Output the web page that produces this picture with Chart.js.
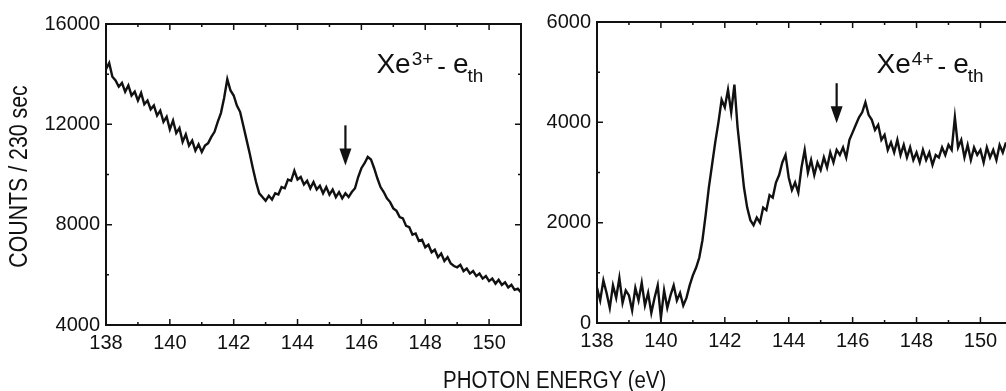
<!DOCTYPE html>
<html>
<head>
<meta charset="utf-8">
<script src="https://cdn.jsdelivr.net/npm/chart.js@4.4.0/dist/chart.umd.min.js"></script>
<style>
body { margin: 0; background: #fff; }
#wrap { position: relative; width: 1006px; height: 391px; overflow: hidden; }
#left { position: absolute; left: 0; top: 0; }
#right { position: absolute; left: 530px; top: 0; }
#xtitle { position: absolute; left: 443px; top: 369px; font: 23px/23px "Liberation Sans", Arial, sans-serif; color: #111; white-space: nowrap; transform: scaleX(0.89); transform-origin: 0 0; }
</style>
</head>
<body>
<div id="wrap">
  <canvas id="left" width="530" height="391"></canvas>
  <canvas id="right" width="476" height="391"></canvas>
  <div id="xtitle">PHOTON ENERGY (eV)</div>
</div>
<script>
// photon energy grid (eV)
var energyStart = 138.0;
var energyStep = 0.1;

// Xe3+ - e_th, counts / 230 sec, 138.0 ... 151.0
var xe3Counts = [
  14200, 14450, 13900, 13750, 13500, 13650, 13300, 13550, 13150, 13300,
  12950, 13250, 12800, 12950, 12600, 12750, 12350, 12550, 12100, 12300,
  11800, 12150, 11650, 11850, 11300, 11600, 11150, 11350, 10950, 11200,
  10900, 11150, 11250, 11500, 11700, 12100, 12450, 13050, 13800, 13350,
  13150, 12750, 12500, 11950, 11400, 10850, 10250, 9700, 9250, 9100,
  8950, 9150, 9000, 9250, 9200, 9500, 9450, 9800, 9750, 10150,
  9800, 9900, 9600, 9750, 9450, 9700, 9400, 9550, 9250, 9500,
  9200, 9400, 9100, 9300, 9050, 9250, 9100, 9300, 9450, 9900,
  10250, 10450, 10700, 10600, 10250, 9850, 9500, 9300, 9050, 8900,
  8650, 8550, 8300, 8250, 7950, 7900, 7600, 7650, 7350, 7400,
  7100, 7200, 6900, 7000, 6700, 6850, 6550, 6700, 6450, 6350,
  6300, 6400, 6150, 6250, 6050, 6150, 5950, 6050, 5850, 5950,
  5750, 5850, 5650, 5800, 5600, 5700, 5500, 5600, 5400, 5450,
  5300
];

// Xe4+ - e_th, counts / 230 sec, 138.0 ... 150.8
var xe4Counts = [
  700, 450, 850, 600, 300, 750, 500, 900, 400, 650,
  550, 250, 700, 450, 800, 350, 600, 200, 500, 750,
  100, 650, 300, 550, 750, 450, 600, 350, 500, 750,
  950, 1100, 1300, 1650, 2150, 2700, 3150, 3600, 4000, 4450,
  4300, 4650, 4200, 4750, 3900, 3300, 2700, 2300, 2050, 1950,
  2100, 2000, 2300, 2250, 2550, 2500, 2800, 2950, 3200, 3350,
  2900, 2650, 2800, 2600, 3100, 3450, 3000, 3250, 2950, 3200,
  3050, 3300, 3100, 3400, 3200, 3450, 3350, 3500, 3300, 3650,
  3800, 3950, 4100, 4200, 4400, 4150, 4050, 3850, 3950, 3650,
  3750, 3450, 3600, 3400, 3650, 3350, 3550, 3300, 3500, 3250,
  3400, 3200, 3450, 3250, 3400, 3150, 3350, 3300, 3500, 3350,
  3550, 3450, 4100, 3500, 3650, 3300, 3550, 3250, 3500, 3350,
  3450, 3200, 3500, 3300, 3450, 3250, 3550, 3400, 3600
];

var energyTicks = [138, 140, 142, 144, 146, 148, 150];
var xe3Ticks = [4000, 8000, 12000, 16000];
var xe4Ticks = [0, 2000, 4000, 6000];

var sans = '"Liberation Sans", Arial, sans-serif';
var ink = '#111';

function toPoints(counts) {
  return counts.map(function(c, i) {
    return { x: +(energyStart + i * energyStep).toFixed(2), y: c };
  });
}

function midpoints(t) {
  var m = [];
  for (var i = 0; i < t.length - 1; i++) m.push((t[i] + t[i + 1]) / 2);
  return m;
}

function drawLabel(ctx, x, y, charge) {
  ctx.fillStyle = ink;
  ctx.textAlign = 'left';
  ctx.textBaseline = 'alphabetic';
  ctx.font = '28px ' + sans;
  ctx.fillText('Xe', x, y);
  x += ctx.measureText('Xe').width + 1;
  ctx.font = '19px ' + sans;
  ctx.fillText(charge, x, y - 8);
  x += ctx.measureText(charge).width + 4;
  ctx.font = '26px ' + sans;
  ctx.fillText('-', x, y + 2);
  x += ctx.measureText('-').width + 7;
  ctx.font = '28px ' + sans;
  ctx.fillText('e', x, y);
  x += ctx.measureText('e').width - 1;
  ctx.font = '19px ' + sans;
  ctx.fillText('th', x, y + 9);
}

var framePlugin = {
  id: 'frame',
  afterDraw: function(chart, args, o) {
    var ctx = chart.ctx, a = chart.chartArea;
    var xs = chart.scales.x, ys = chart.scales.y;
    ctx.save();
    ctx.strokeStyle = ink;
    ctx.lineWidth = 2;
    ctx.beginPath();
    ctx.moveTo(a.left, a.top); ctx.lineTo(a.right, a.top);
    ctx.moveTo(a.left, a.top - 1); ctx.lineTo(a.left, a.bottom + 1);
    ctx.moveTo(a.left, a.bottom); ctx.lineTo(a.right, a.bottom);
    if (o.rightEdge) { ctx.moveTo(a.right, a.top - 1); ctx.lineTo(a.right, a.bottom + 1); }
    ctx.stroke();

    ctx.lineWidth = 1.5;
    ctx.beginPath();
    function xTick(v, len) {
      var px = xs.getPixelForValue(v);
      ctx.moveTo(px, a.bottom); ctx.lineTo(px, a.bottom - len);
      ctx.moveTo(px, a.top); ctx.lineTo(px, a.top + len);
    }
    function yTick(v, len) {
      var py = ys.getPixelForValue(v);
      ctx.moveTo(a.left, py); ctx.lineTo(a.left + len, py);
      if (o.rightEdge) { ctx.moveTo(a.right, py); ctx.lineTo(a.right - len, py); }
    }
    energyTicks.forEach(function(v) { xTick(v, 6); });
    midpoints(energyTicks).forEach(function(v) { xTick(v, 3); });
    o.yTicks.forEach(function(v) { yTick(v, 6); });
    midpoints(o.yTicks).forEach(function(v) { yTick(v, 3); });
    ctx.stroke();

    // arrow marking the threshold
    var ax = xs.getPixelForValue(o.arrow.x);
    var ay0 = ys.getPixelForValue(o.arrow.from);
    var ay1 = ys.getPixelForValue(o.arrow.to);
    ctx.lineWidth = 2.2;
    ctx.beginPath();
    ctx.moveTo(ax, ay0); ctx.lineTo(ax, ay1 - 10);
    ctx.stroke();
    ctx.fillStyle = ink;
    ctx.beginPath();
    ctx.moveTo(ax - 6, ay1 - 17); ctx.lineTo(ax + 6, ay1 - 17); ctx.lineTo(ax, ay1);
    ctx.closePath();
    ctx.fill();

    drawLabel(ctx, xs.getPixelForValue(o.label.x), ys.getPixelForValue(o.label.y), o.label.charge);

    // condensed vertical axis title
    if (o.yTitle) {
      ctx.save();
      ctx.translate(20, (a.top + a.bottom) / 2 + 2);
      ctx.rotate(-Math.PI / 2);
      ctx.scale(0.82, 1);
      ctx.font = '26px ' + sans;
      ctx.textAlign = 'center';
      ctx.textBaseline = 'middle';
      ctx.fillStyle = ink;
      ctx.fillText(o.yTitle, 0, 0);
      ctx.restore();
    }
    ctx.restore();
  }
};

function makeChart(id, counts, yTicks, yMin, yMax, xMax, box) {
  return new Chart(document.getElementById(id), {
    type: 'line',
    data: {
      datasets: [{
        data: toPoints(counts),
        borderColor: ink,
        borderWidth: 2.4,
        pointRadius: 0,
        tension: 0,
        fill: false
      }]
    },
    options: {
      responsive: false,
      animation: false,
      layout: { padding: { top: box.top, right: box.right, left: 0, bottom: 0 } },
      plugins: {
        legend: { display: false },
        tooltip: { enabled: false },
        frame: { rightEdge: box.rightEdge, yTicks: yTicks, arrow: box.arrow, label: box.label, yTitle: box.yTitle }
      },
      scales: {
        x: {
          type: 'linear',
          min: 138,
          max: xMax,
          afterBuildTicks: function(s) { s.ticks = energyTicks.map(function(v) { return { value: v }; }); },
          afterFit: function(s) { s.height = box.xHeight; },
          grid: { display: false, drawTicks: false },
          border: { display: false },
          ticks: {
            color: ink, padding: 6, maxRotation: 0, autoSkip: false,
            font: { family: sans, size: 20 },
            callback: function(v) { return String(v); }
          }
        },
        y: {
          min: yMin,
          max: yMax,
          afterBuildTicks: function(s) { s.ticks = yTicks.map(function(v) { return { value: v }; }); },
          afterFit: function(s) { s.width = box.yWidth; },
          grid: { display: false, drawTicks: false },
          border: { display: false },
          ticks: {
            color: ink, padding: 6,
            font: { family: sans, size: 20 },
            callback: function(v) { return String(v); }
          }
        }
      }
    },
    plugins: [framePlugin]
  });
}

makeChart('left', xe3Counts, xe3Ticks, 4000, 16000, 151, {
  top: 24, right: 9, xHeight: 66, yWidth: 106, rightEdge: true,
  yTitle: 'COUNTS / 230 sec',
  arrow: { x: 145.5, from: 11960, to: 10360 },
  label: { x: 146.47, y: 14040, charge: '3+' }
});

makeChart('right', xe4Counts, xe4Ticks, 0, 6000, 150.8, {
  top: 22, right: 0, xHeight: 68, yWidth: 67, rightEdge: false,
  arrow: { x: 145.5, from: 4780, to: 3980 },
  label: { x: 146.75, y: 4980, charge: '4+' }
});
</script>
</body>
</html>
